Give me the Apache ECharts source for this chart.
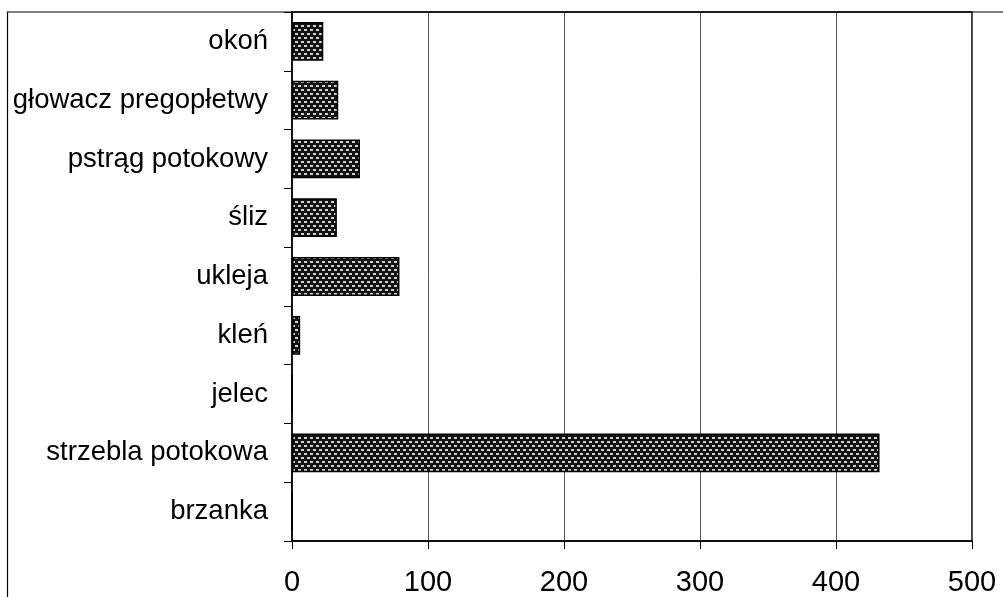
<!DOCTYPE html>
<html>
<head>
<meta charset="utf-8">
<script src="https://cdn.jsdelivr.net/npm/echarts@6/dist/echarts.min.js"></script>
<style>
  html, body { margin: 0; padding: 0; background: #fff; }
  #chart { width: 1003px; height: 597px; }
</style>
</head>
<body>
<div id="chart"></div>
<script>
// Fish species (bottom to top) and their counts
const species = ['brzanka', 'strzebla potokowa', 'jelec', 'kleń', 'ukleja', 'śliz', 'pstrąg potokowy', 'głowacz pregopłetwy', 'okoń'];
const counts = [0, 432, 0, 6, 79, 33, 50, 34, 23];
const xTicks = [0, 100, 200, 300, 400, 500];

// Dark fill with staggered light dashes
function makePattern() {
  const c = document.createElement('canvas');
  c.width = 6; c.height = 8;
  const g = c.getContext('2d');
  g.fillStyle = '#141414';
  g.fillRect(0, 0, 6, 8);
  g.fillStyle = '#cfcfcf';
  g.fillRect(1, 1, 3, 2);
  g.fillRect(4, 5, 2, 2);
  g.fillRect(0, 5, 1, 2);
  return c;
}

const chart = echarts.init(document.getElementById('chart'), null, { renderer: 'canvas' });
const font = '"Liberation Sans", Arial, sans-serif';

chart.setOption({
  animation: false,
  backgroundColor: '#fff',
  grid: { left: 292, top: 12, right: 31, bottom: 56, show: true, borderColor: '#000', borderWidth: 1.5, containLabel: false },
  xAxis: {
    type: 'value',
    min: xTicks[0],
    max: xTicks[xTicks.length - 1],
    interval: 100,
    axisLine: { show: true, lineStyle: { color: '#000', width: 1.5 } },
    axisTick: { show: true, inside: false, length: 8, lineStyle: { color: '#000', width: 1 } },
    splitLine: { show: true, lineStyle: { color: '#555', width: 1 } },
    axisLabel: { color: '#000', fontSize: 29, fontFamily: font, margin: 27 }
  },
  yAxis: {
    type: 'category',
    data: species,
    axisLine: { show: true, lineStyle: { color: '#000', width: 1.5 } },
    axisTick: { show: true, inside: false, length: 8, alignWithLabel: false, lineStyle: { color: '#000', width: 1 } },
    splitLine: { show: false },
    axisLabel: { color: '#000', fontSize: 27.5, fontFamily: font, margin: 24 }
  },
  series: [{
    type: 'bar',
    data: counts,
    barWidth: '66%',
    itemStyle: {
      color: { image: makePattern(), repeat: 'repeat' },
      borderColor: '#000',
      borderWidth: 1.5
    }
  }],
  graphic: [{
    type: 'rect',
    shape: { x: 7.5, y: 12, width: 1100, height: 700 },
    style: { fill: null, stroke: '#000', lineWidth: 1.2 },
    silent: true,
    z: 10
  }]
});
</script>
</body>
</html>
